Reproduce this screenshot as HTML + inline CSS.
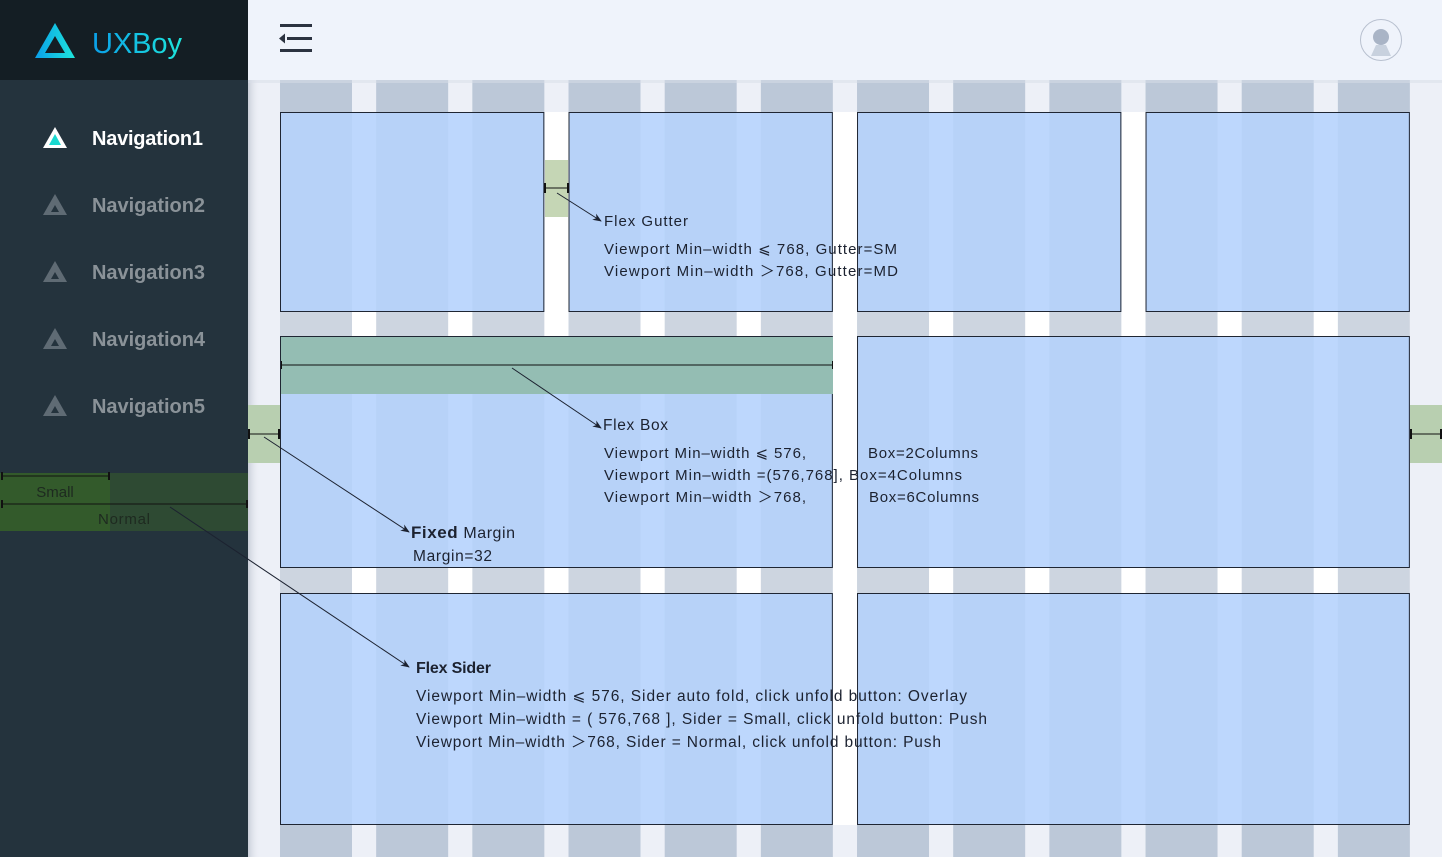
<!DOCTYPE html>
<html><head><meta charset="utf-8"><style>
html,body{margin:0;padding:0;width:1442px;height:857px;overflow:hidden;background:#edf0f7}
svg{display:block;font-family:"Liberation Sans",sans-serif}
</style></head><body>
<svg width="1442" height="857" viewBox="0 0 1442 857" xmlns="http://www.w3.org/2000/svg">
<defs>
<linearGradient id="lg" x1="0" x2="1" y1="0" y2="0"><stop offset="0" stop-color="#0a9fe8"/><stop offset="1" stop-color="#1ee6dc"/></linearGradient>
<linearGradient id="sh" x1="0" x2="1"><stop offset="0" stop-color="#c9ced8"/><stop offset="1" stop-color="#edf0f7" stop-opacity="0"/></linearGradient>
<marker id="ar" viewBox="0 0 10 10" refX="9" refY="5" markerWidth="9" markerHeight="9" orient="auto"><path d="M0,1 L10,5 L0,9 L3,5 z" fill="#1c2230"/></marker>
</defs>
<rect x="248" y="0" width="1194" height="857" fill="#edf0f7"/>
<rect x="248" y="80" width="12" height="777" fill="url(#sh)"/>
<rect x="280" y="112" width="1130" height="713" fill="#ffffff"/>
<g id="cols"></g>
<rect x="0" y="0" width="248" height="857" fill="#24333d"/>
<rect x="0" y="0" width="248" height="80" fill="#141e24"/>
<rect x="248" y="0" width="1194" height="80" fill="#eff3fb"/>
<rect x="248" y="80" width="1194" height="3" fill="#d8dde8" opacity="0.5"/>
<g fill="#2b3240"><rect x="280" y="24" width="32" height="3"/><rect x="287" y="37" width="25" height="3"/><rect x="280" y="49" width="32" height="3"/><path d="M279,38.5 L285,33.5 L285,43.5 z"/></g>
<circle cx="1381" cy="40" r="20.5" fill="#eff3fb" stroke="#b8c0cf" stroke-width="1"/>
<path d="M1371,56 L1376,45 L1386,45 L1391,56 Z" fill="#c8d1de"/>
<circle cx="1381" cy="37" r="8" fill="#a9b4c6"/>
<path d="M55,23 L75,58 L35,58 Z M55,36 L45,53 L65,53 Z" fill="url(#lg)" fill-rule="evenodd"/>
<text x="92" y="53" font-size="29" fill="url(#lg)" textLength="90">UXBoy</text>
<g font-size="20" font-weight="600">
<path d="M55,127 L67,148 L43,148 Z" fill="#ffffff"/><path d="M55,134 L61,145 L49,145 Z" fill="#19d8d0"/>
<text x="92" y="145" fill="#ffffff" textLength="111">Navigation1</text>
<g fill="#5f6b74">
<path d="M55,194 L67,215 L43,215 Z"/><path d="M55,261 L67,282 L43,282 Z"/><path d="M55,328 L67,349 L43,349 Z"/><path d="M55,395 L67,416 L43,416 Z"/>
</g>
<g fill="#24333d"><path d="M55,205 L59,212 L51,212Z"/><path d="M55,272 L59,279 L51,279Z"/><path d="M55,339 L59,346 L51,346Z"/><path d="M55,406 L59,413 L51,413Z"/></g>
<text x="92" y="212" fill="#8a9298" textLength="113">Navigation2</text>
<text x="92" y="279" fill="#8a9298" textLength="113">Navigation3</text>
<text x="92" y="346" fill="#8a9298" textLength="113">Navigation4</text>
<text x="92" y="413" fill="#8a9298" textLength="113">Navigation5</text>
</g>
<rect x="0" y="473" width="248" height="58" fill="#2e4a33"/>
<rect x="0" y="473" width="110" height="58" fill="#335a2b"/>
<g stroke="#111" stroke-width="1"><line x1="2" y1="476" x2="109" y2="476"/><line x1="2" y1="504" x2="247" y2="504"/></g>
<g fill="#111"><rect x="1" y="472" width="2" height="8"/><rect x="108" y="472" width="2" height="8"/><rect x="1" y="500" width="2" height="8"/><rect x="246" y="500" width="2" height="8"/></g>
<text x="55" y="497" font-size="15" text-anchor="middle" fill="#1e2a20">Small</text>
<text x="98" y="524" font-size="15" fill="#1e2a20" textLength="52">Normal</text>
<rect x="248" y="405" width="32" height="58" fill="#b8cfb0"/>
<rect x="1410" y="405" width="32" height="58" fill="#b8cfb0"/>
<g stroke="#111"><line x1="249" y1="434" x2="279" y2="434"/><line x1="1411" y1="434" x2="1441" y2="434"/></g>
<g fill="#111"><rect x="248" y="429" width="2" height="10"/><rect x="278" y="429" width="2" height="10"/><rect x="1410" y="429" width="2" height="10"/><rect x="1440" y="429" width="2" height="10"/></g>
<g id="boxes"></g>
<rect x="545" y="160" width="23" height="57" fill="#c5d6b5"/>
<line x1="546" y1="188" x2="568" y2="188" stroke="#111"/>
<rect x="544" y="183" width="2" height="10" fill="#111"/><rect x="567" y="183" width="2" height="10" fill="#111"/>
<rect x="281" y="337" width="552" height="57" fill="#94bdb3"/>
<line x1="281" y1="365" x2="833" y2="365" stroke="#111"/>
<rect x="281" y="361" width="1" height="8" fill="#111"/><rect x="832" y="361" width="1" height="8" fill="#111"/>
<g stroke="#1c2230" stroke-width="1" fill="none" marker-end="url(#ar)">
<line x1="557" y1="193" x2="601" y2="221"/>
<line x1="512" y1="368" x2="601" y2="428"/>
<line x1="264" y1="437" x2="409" y2="532"/>
<line x1="170" y1="507" x2="409" y2="667"/>
</g>
<g fill="#1c2230" font-size="15">
<text x="604" y="226" textLength="84">Flex Gutter</text>
<text x="604" y="254" textLength="293">Viewport Min–width ⩽ 768,  Gutter=SM</text>
<text x="604" y="276" textLength="294">Viewport Min–width ＞768,  Gutter=MD</text>
<text x="603" y="430" font-size="15.5" textLength="65">Flex Box</text>
<text x="604" y="458" textLength="202">Viewport Min–width ⩽ 576,</text><text x="868" y="458" textLength="110">Box=2Columns</text>
<text x="604" y="480" textLength="358">Viewport Min–width =(576,768],  Box=4Columns</text>
<text x="604" y="502" textLength="202">Viewport Min–width ＞768,</text><text x="869" y="502" textLength="110">Box=6Columns</text>
<text x="411" y="538" font-size="17" font-weight="bold" textLength="104">Fixed <tspan font-size="16" font-weight="normal">Margin</tspan></text>
<text x="413" y="561" font-size="15.5" textLength="79">Margin=32</text>
<text x="416" y="673" font-size="16" font-weight="bold" textLength="75">Flex Sider</text>
<text x="416" y="701" font-size="15.5" textLength="551">Viewport Min–width ⩽ 576,  Sider auto  fold,  click unfold button:  Overlay</text>
<text x="416" y="724" font-size="15.5" textLength="571">Viewport Min–width =  ( 576,768 ],  Sider = Small,  click unfold button:  Push</text>
<text x="416" y="747" font-size="15.5" textLength="525">Viewport Min–width ＞768,  Sider = Normal,  click unfold button:  Push</text>
</g>
</svg>
<script>
(function(){
var ns="http://www.w3.org/2000/svg";
function r(p,x,y,w,h,f,s){var e=document.createElementNS(ns,"rect");e.setAttribute("x",x);e.setAttribute("y",y);e.setAttribute("width",w);e.setAttribute("height",h);e.setAttribute("fill",f);if(s){e.setAttribute("stroke",s);e.setAttribute("stroke-width","1");}p.appendChild(e);}
var P=96.17,W=72,cols=document.getElementById("cols"),bx=document.getElementById("boxes");
for(var i=0;i<12;i++){var x=280+i*P;
 r(cols,x,80,W,32,"#bcc8d8");
 r(cols,x,312,W,24,"#cdd5e0");
 r(cols,x,568,W,25,"#cdd5e0");
 r(cols,x,825,W,32,"#bcc8d8");}
var boxes=[[0,3,112,312],[3,6,112,312],[6,9,112,312],[9,12,112,312],[0,6,336,568],[6,12,336,568],[0,6,593,825],[6,12,593,825]];
boxes.forEach(function(b){var x0=280+b[0]*P,x1=280+(b[1]-1)*P+W;
 r(bx,x0,b[2],x1-x0,b[3]-b[2],"#bdd7fd");
 for(var i=b[0];i<b[1];i++)r(bx,280+i*P,b[2],W,b[3]-b[2],"#b7d2f8");
 r(bx,x0+0.5,b[2]+0.5,x1-x0-1,b[3]-b[2]-1,"none","#1f2633");});
})();
</script>
</body></html>
